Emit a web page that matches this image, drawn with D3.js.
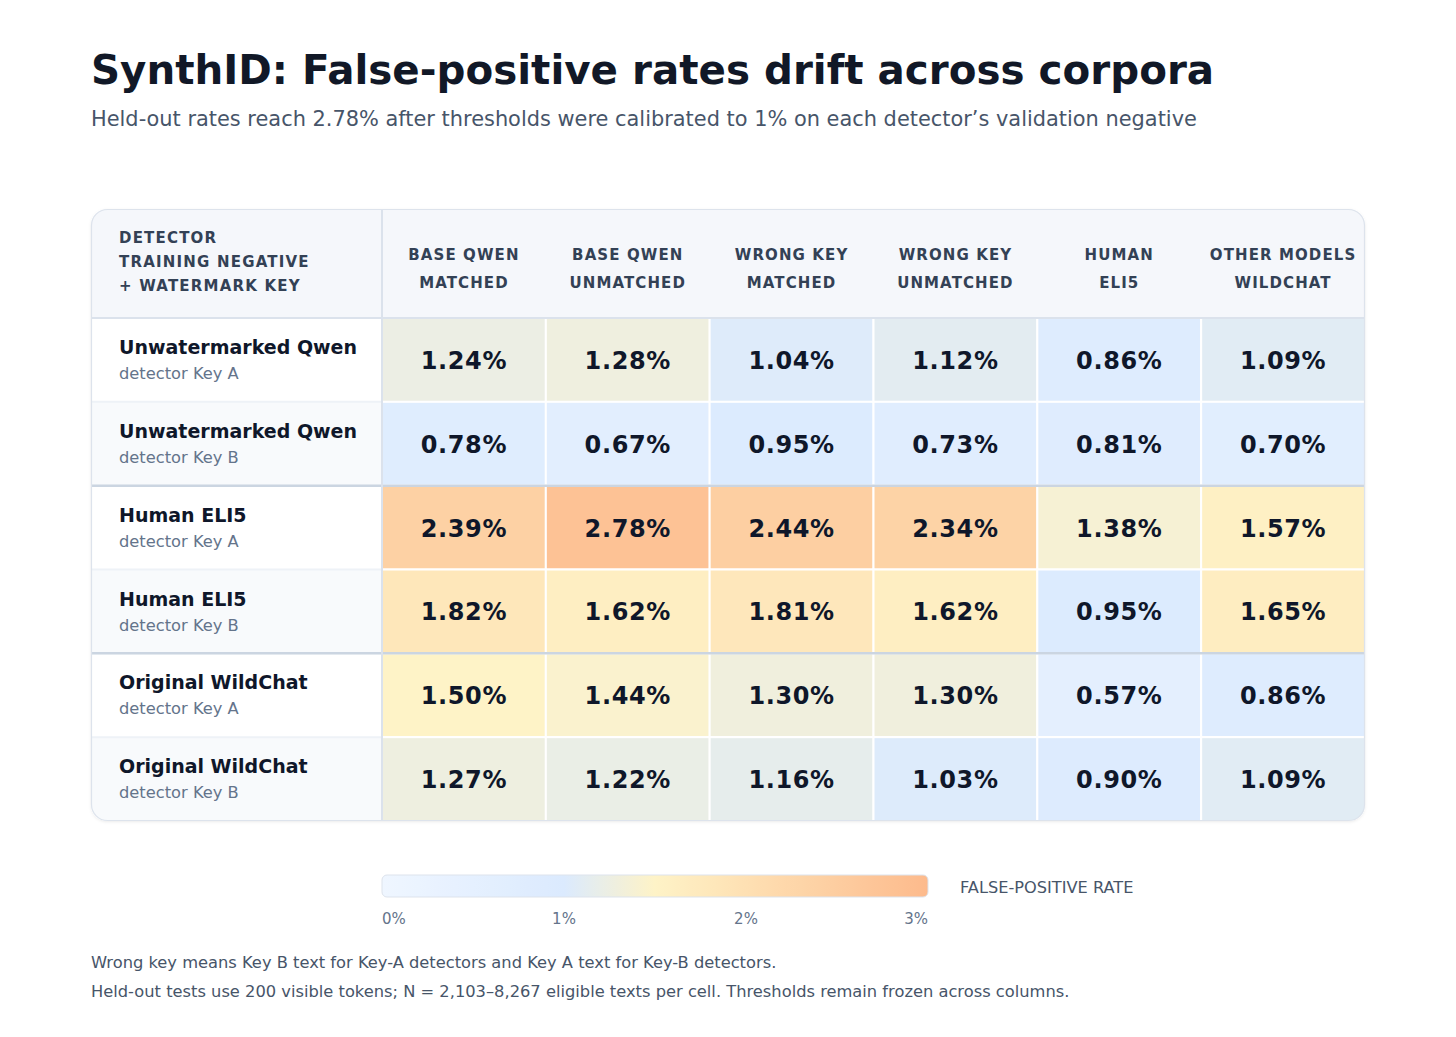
<!DOCTYPE html>
<html>
<head>
<meta charset="utf-8">
<script src="https://cdn.jsdelivr.net/npm/d3@7"></script>
<style>
  body { margin: 0; background: #ffffff; font-family: "DejaVu Sans", sans-serif; }
  svg text { font-family: "DejaVu Sans", sans-serif; }
</style>
</head>
<body>
<div id="chart"></div>
<script>
// column headers (two lines each)
const columns = [
    ["BASE QWEN", "MATCHED"],
    ["BASE QWEN", "UNMATCHED"],
    ["WRONG KEY", "MATCHED"],
    ["WRONG KEY", "UNMATCHED"],
    ["HUMAN", "ELI5"],
    ["OTHER MODELS", "WILDCHAT"]
];
const rowNames = ["Unwatermarked Qwen", "Unwatermarked Qwen", "Human ELI5", "Human ELI5", "Original WildChat", "Original WildChat"];
const rowKeys = ["detector Key A", "detector Key B", "detector Key A", "detector Key B", "detector Key A", "detector Key B"];
// false-positive rates, %
const values = [
    [1.24, 1.28, 1.04, 1.12, 0.86, 1.09],
    [0.78, 0.67, 0.95, 0.73, 0.81, 0.70],
    [2.39, 2.78, 2.44, 2.34, 1.38, 1.57],
    [1.82, 1.62, 1.81, 1.62, 0.95, 1.65],
    [1.50, 1.44, 1.30, 1.30, 0.57, 0.86],
    [1.27, 1.22, 1.16, 1.03, 0.90, 1.09]
];
const legendTicks = [0, 1, 2, 3];
const colorStops = [0, 1, 1.5, 3];
const colorRange = ["#eff6ff", "#dbeafe", "#fef3c7", "#fdba8c"];

const width = 1456, height = 1037;
const card = {x: 91, y: 209, w: 1274, h: 612, r: 16};
const labelW = 291, headerH = 109;

const svg = d3.select("#chart").append("svg")
    .attr("width", width)
    .attr("height", height);

const color = d3.scaleLinear().domain(colorStops).range(colorRange).interpolate(d3.interpolateRgb);

// title + subtitle
svg.append("text")
    .attr("x", 91).attr("y", 84)
    .style("font-size", "40.4px").style("font-weight", "bold")
    .attr("fill", "#111827")
    .text("SynthID: False-positive rates drift across corpora");
svg.append("text")
    .attr("x", 91).attr("y", 126)
    .style("font-size", "20.9px")
    .attr("fill", "#475569")
    .text("Held-out rates reach 2.78% after thresholds were calibrated to 1% on each detector\u2019s validation negative");

// card
const defs = svg.append("defs");
defs.append("clipPath").attr("id", "cardClip")
    .append("rect")
    .attr("x", card.x).attr("y", card.y)
    .attr("width", card.w).attr("height", card.h)
    .attr("rx", card.r);

const filter = defs.append("filter").attr("id", "shadow").attr("x", "-5%").attr("y", "-5%").attr("width", "110%").attr("height", "110%");
filter.append("feDropShadow").attr("dx", 0).attr("dy", 1).attr("stdDeviation", 1.5)
    .attr("flood-color", "#0f172a").attr("flood-opacity", 0.08);

svg.append("rect")
    .attr("x", card.x).attr("y", card.y)
    .attr("width", card.w).attr("height", card.h)
    .attr("rx", card.r)
    .attr("fill", "#ffffff")
    .attr("filter", "url(#shadow)");

const g = svg.append("g").attr("clip-path", "url(#cardClip)");

const x = d3.scaleBand().domain(d3.range(columns.length)).range([card.x + labelW, card.x + card.w]);
const y = d3.scaleBand().domain(d3.range(rowNames.length)).range([card.y + headerH, card.y + card.h]);

// header background
g.append("rect")
    .attr("x", card.x).attr("y", card.y)
    .attr("width", card.w).attr("height", headerH)
    .attr("fill", "#f5f7fb");

// row label backgrounds
g.selectAll(".rowBg").data(rowNames).enter().append("rect")
    .attr("class", "rowBg")
    .attr("x", card.x).attr("y", (d, i) => y(i))
    .attr("width", labelW).attr("height", y.bandwidth())
    .attr("fill", (d, i) => i % 2 ? "#f8fafc" : "#ffffff");

// cells
const cells = [];
values.forEach((row, i) => row.forEach((v, j) => cells.push({row: i, col: j, value: v})));

g.selectAll(".cell").data(cells).enter().append("rect")
    .attr("class", "cell")
    .attr("x", d => x(d.col)).attr("y", d => y(d.row))
    .attr("width", x.bandwidth()).attr("height", y.bandwidth())
    .attr("fill", d => color(d.value))
    .attr("stroke", "#ffffff").attr("stroke-width", 2);

g.selectAll(".cellText").data(cells).enter().append("text")
    .attr("class", "cellText")
    .attr("x", d => x(d.col) + x.bandwidth() / 2)
    .attr("y", d => y(d.row) + y.bandwidth() / 2 + 9)
    .attr("text-anchor", "middle")
    .style("font-size", "24px").style("font-weight", "bold").style("letter-spacing", "0.6px")
    .attr("fill", "#0f172a")
    .text(d => d.value.toFixed(2) + "%");

// row label separators (thin)
g.selectAll(".rowLine").data(d3.range(1, rowNames.length)).enter().append("line")
    .attr("class", "rowLine")
    .attr("x1", card.x).attr("x2", card.x + labelW)
    .attr("y1", d => y(d)).attr("y2", d => y(d))
    .attr("stroke", "#eef2f7").attr("stroke-width", 2);

// group separators
g.selectAll(".groupLine").data([2, 4]).enter().append("line")
    .attr("class", "groupLine")
    .attr("x1", card.x).attr("x2", card.x + card.w)
    .attr("y1", d => y(d)).attr("y2", d => y(d))
    .attr("stroke", "#cbd5e1").attr("stroke-width", 2.5);

// header bottom line
g.append("line")
    .attr("x1", card.x).attr("x2", card.x + card.w)
    .attr("y1", card.y + headerH).attr("y2", card.y + headerH)
    .attr("stroke", "#dbe2ec").attr("stroke-width", 2);

// label column divider
g.append("line")
    .attr("x1", card.x + labelW).attr("x2", card.x + labelW)
    .attr("y1", card.y).attr("y2", card.y + card.h)
    .attr("stroke", "#dbe2ec").attr("stroke-width", 2);

// card border
svg.append("rect")
    .attr("x", card.x + 0.5).attr("y", card.y + 0.5)
    .attr("width", card.w - 1).attr("height", card.h - 1)
    .attr("rx", card.r)
    .attr("fill", "none")
    .attr("stroke", "#dde3ec").attr("stroke-width", 1.2);

// row header
const corner = svg.append("text")
    .attr("x", card.x + 28)
    .style("font-size", "15px").style("font-weight", "bold").style("letter-spacing", "1.2px")
    .attr("fill", "#334155");
["DETECTOR", "TRAINING NEGATIVE", "+ WATERMARK KEY"].forEach((t, i) => {
    corner.append("tspan").attr("x", card.x + 28).attr("y", card.y + 34 + i * 24).text(t);
});

// column headers
const head = svg.selectAll(".colHead").data(columns).enter().append("text")
    .attr("class", "colHead")
    .attr("text-anchor", "middle")
    .style("font-size", "15px").style("font-weight", "bold").style("letter-spacing", "1.1px")
    .attr("fill", "#334155");
head.selectAll("tspan").data((d, j) => d.map(t => ({t, j}))).enter().append("tspan")
    .attr("x", d => x(d.j) + x.bandwidth() / 2)
    .attr("y", (d, i) => card.y + 51 + i * 28)
    .text(d => d.t);

// row labels
svg.selectAll(".rowName").data(rowNames).enter().append("text")
    .attr("class", "rowName")
    .attr("x", card.x + 28).attr("y", (d, i) => y(i) + 36)
    .style("font-size", "19px").style("font-weight", "bold")
    .attr("fill", "#0f172a")
    .text(d => d);
svg.selectAll(".rowKey").data(rowKeys).enter().append("text")
    .attr("class", "rowKey")
    .attr("x", card.x + 28).attr("y", (d, i) => y(i) + 61)
    .style("font-size", "16.3px")
    .attr("fill", "#64748b")
    .text(d => d);

// legend
const lx = d3.scaleLinear().domain([0, 3]).range([382, 928]);
const grad = defs.append("linearGradient").attr("id", "legendGrad")
    .attr("x1", "0%").attr("x2", "100%");
d3.range(0, 3.001, 0.1).forEach(v => {
    grad.append("stop").attr("offset", (v / 3 * 100) + "%").attr("stop-color", color(v));
});
svg.append("rect")
    .attr("x", lx(0)).attr("y", 875)
    .attr("width", lx(3) - lx(0)).attr("height", 22)
    .attr("rx", 5)
    .attr("fill", "url(#legendGrad)")
    .attr("stroke", "#dde3ec").attr("stroke-width", 1);

svg.selectAll(".legTick").data(legendTicks).enter().append("text")
    .attr("class", "legTick")
    .attr("x", d => lx(d))
    .attr("y", 924)
    .attr("text-anchor", (d, i) => i === 0 ? "start" : (i === legendTicks.length - 1 ? "end" : "middle"))
    .style("font-size", "15px")
    .attr("fill", "#64748b")
    .text(d => d + "%");

svg.append("text")
    .attr("x", 960).attr("y", 893)
    .style("font-size", "16.2px")
    .attr("fill", "#475569")
    .text("FALSE-POSITIVE RATE");

// footnotes
const notes = [
    "Wrong key means Key B text for Key-A detectors and Key A text for Key-B detectors.",
    "Held-out tests use 200 visible tokens; N = 2,103\u20138,267 eligible texts per cell. Thresholds remain frozen across columns."
];
svg.selectAll(".note").data(notes).enter().append("text")
    .attr("class", "note")
    .attr("x", 91).attr("y", (d, i) => 968 + i * 29)
    .style("font-size", "16.3px")
    .attr("fill", "#475569")
    .text(d => d);
</script>
</body>
</html>
